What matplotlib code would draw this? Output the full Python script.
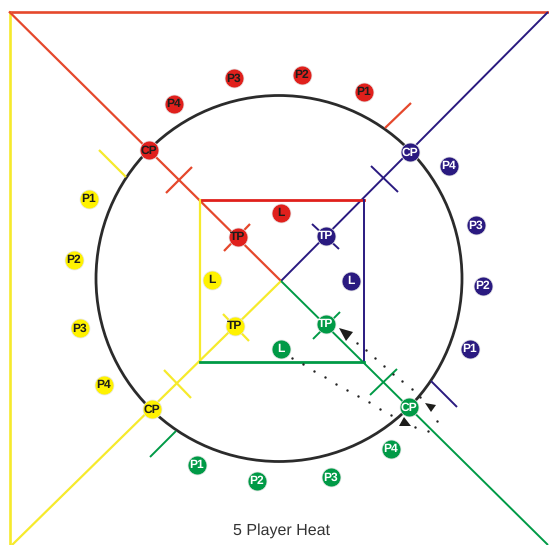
import matplotlib
matplotlib.use("Agg")
import matplotlib.pyplot as plt
from matplotlib.patches import Circle, Polygon

plt.rcParams["text.hinting"] = "no_hinting"
plt.rcParams["text.hinting_factor"] = 1

# Colours
RED = "#e0201c"
RED_LINE = "#e5482c"
YELLOW = "#fff200"
YELLOW_LINE = "#f6ea2c"
BLUE = "#2a1a80"
GREEN = "#009a46"
RING = "#2b2b2b"

# Everything in pixels
ring_center = (279, 278.5)
ring_radius = 183

# Big lines: (x1, y1, x2, y2)
border_red = [(9, 11.5, 549, 11.5)]
border_yellow = [(9.5, 11.5, 9.5, 545)]
red_lines = [(9, 11.5, 281, 281), (385, 128, 411, 103),
             (166, 193, 192, 167), (224, 251, 250, 224)]
blue_lines = [(548, 12, 281, 281), (371, 166, 398, 192), (312, 224, 339, 249),
              (431, 381, 457, 407)]
yellow_lines = [(281, 281, 12, 545), (99, 150, 126, 177),
                (164, 370, 191, 398), (223, 314, 249, 341)]
green_lines = [(281, 281, 548, 545), (150, 457, 176, 431), (370, 395, 397, 369),
               (313, 339, 340, 312)]

# Inner square sides
square_left, square_right = 200, 363.5
square_top, square_bottom = 199.5, 362

# Marker labels and spots
red_labels = ["P4", "P3", "P2", "P1", "CP", "TP", "L"]
red_x = [174, 234, 302, 363.5, 149, 238, 281]
red_y = [104, 78, 75, 92, 150, 237, 213]

blue_labels = ["P4", "P3", "P2", "P1", "CP", "TP", "L"]
blue_x = [449, 476, 483, 470, 409.5, 326, 351]
blue_y = [166, 225, 286, 349, 152, 236, 281]

yellow_labels = ["P1", "P2", "P3", "P4", "CP", "TP", "L"]
yellow_x = [89, 74, 80, 104, 152, 235, 212]
yellow_y = [199, 260, 328, 385, 409, 326, 280]

green_labels = ["P1", "P2", "P3", "P4", "CP", "TP", "L"]
green_x = [197, 257, 331, 391, 409, 326, 281]
green_y = [465, 481, 477, 449, 407, 324, 349]

# Dotted runs
dots1_x = [292, 303, 314, 325, 336, 347, 358, 369, 380, 391, 415, 428]
dots1_y = [358, 364, 371, 377, 384, 390, 396, 402, 409, 415, 427, 431]
dots2_x = [357, 366, 375, 384, 393, 402, 412, 420, 437]
dots2_y = [343, 350, 358, 366, 374, 381, 389, 397, 421]

# Arrow heads
arrow_heads = [[(339, 328), (353, 332), (346, 341)],
               [(425, 403), (436, 405), (431, 412)],
               [(399, 426), (411, 426), (404, 417)]]

title_text = "5 Player Heat"

fig = plt.figure(figsize=(5.49, 5.45), dpi=100)
ax = fig.add_axes([0, 0, 1, 1])
ax.set_xlim(0, 549)
ax.set_ylim(545, 0)
ax.axis("off")


def draw_lines(lines, color, width=1.6):
    for x1, y1, x2, y2 in lines:
        ax.plot([x1, x2], [y1, y2], color=color, lw=width, solid_capstyle="butt", zorder=2)


def draw_markers(xs, ys, labels, color, text_color):
    ax.scatter(xs, ys, s=185, color=color, edgecolors="#e4e4e4", linewidths=0.5, zorder=5)
    for x, y, label in zip(xs, ys, labels):
        ax.text(x, y + 0.3, label, color=text_color, fontsize=8.6, fontweight="bold",
                family="Liberation Sans", ha="center", va="center", zorder=6)


# Ring
ax.add_patch(Circle(ring_center, ring_radius, fill=False, ec=RING, lw=2.0, zorder=1))

# Lines
draw_lines(border_red, RED_LINE, 1.9)
draw_lines(border_yellow, YELLOW_LINE, 1.9)
draw_lines(red_lines, RED_LINE)
draw_lines(blue_lines, BLUE, 1.4)
draw_lines(yellow_lines, YELLOW_LINE)
draw_lines(green_lines, GREEN, 1.4)

# Square
ax.plot([square_left, square_right], [square_top, square_top], color=RED, lw=2.0, zorder=3)
ax.plot([square_left, square_left], [square_top, square_bottom], color=YELLOW_LINE, lw=1.6, zorder=3)
ax.plot([square_right, square_right], [square_top, square_bottom], color=BLUE, lw=1.4, zorder=3)
ax.plot([square_left, square_right], [square_bottom, square_bottom], color=GREEN, lw=2.0, zorder=3)

# Dotted paths and arrow heads
ax.scatter(dots1_x, dots1_y, s=3, color="#222222", linewidths=0, zorder=4)
ax.scatter(dots2_x, dots2_y, s=3, color="#222222", linewidths=0, zorder=4)
for head in arrow_heads:
    ax.add_patch(Polygon(head, closed=True, fc="#1d1d1b", ec="none", zorder=4))

# Markers
draw_markers(red_x, red_y, red_labels, RED, "#1d1d1b")
draw_markers(blue_x, blue_y, blue_labels, BLUE, "white")
draw_markers(yellow_x, yellow_y, yellow_labels, YELLOW, "#1d1d1b")
draw_markers(green_x, green_y, green_labels, GREEN, "white")

ax.text(282, 531, title_text, color="#333333", fontsize=11.4, family="Liberation Sans",
        ha="center", va="center")

fig.savefig("out.png", dpi=100)
